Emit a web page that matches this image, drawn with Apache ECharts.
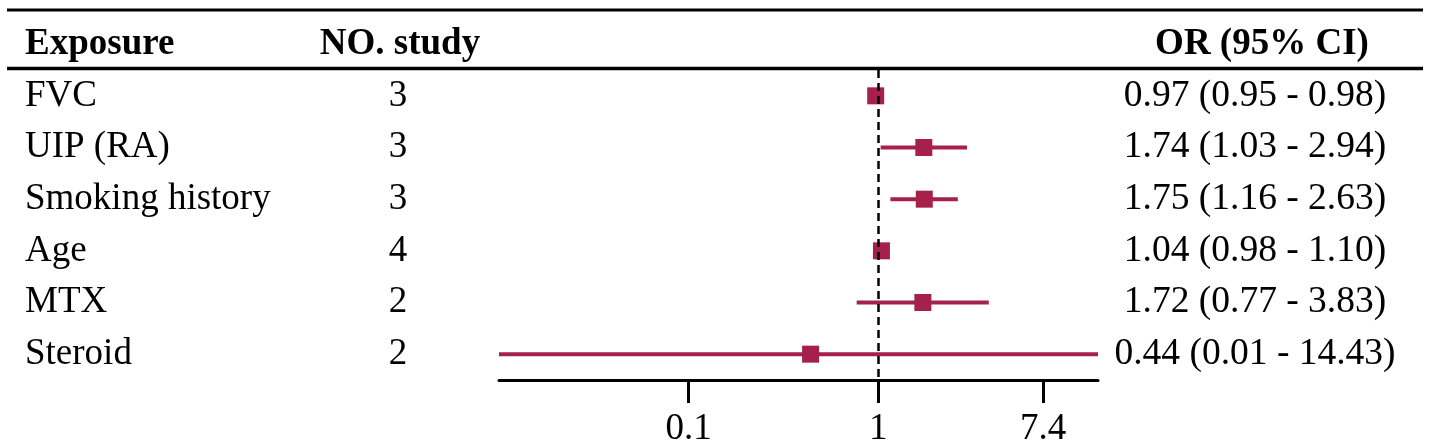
<!DOCTYPE html>
<html>
<head>
<meta charset="utf-8">
<script src="https://cdn.jsdelivr.net/npm/echarts@6/dist/echarts.min.js"></script>
<style>
html, body { margin: 0; padding: 0; background: #fff; }
#main { width: 1429px; height: 448px; }
</style>
</head>
<body>
<div id="main"></div>
<script>
// rows of the forest plot, top to bottom
var exposures = ['FVC', 'UIP (RA)', 'Smoking history', 'Age', 'MTX', 'Steroid'];
var studies = [3, 3, 3, 4, 2, 2];
var orVals = [0.97, 1.74, 1.75, 1.04, 1.72, 0.44];
var lower = [0.95, 1.03, 1.16, 0.98, 0.77, 0.01];
var upper = [0.98, 2.94, 2.63, 1.10, 3.83, 14.43];
var xTicks = [0.1, 1, 7.4];

var ciLabels = orVals.map(function (v, i) {
    return v.toFixed(2) + ' (' + lower[i].toFixed(2) + ' - ' + upper[i].toFixed(2) + ')';
});

var font = 'Liberation Serif, Times New Roman, serif';
var red = '#a5214c';

var myecharts = echarts.init(document.getElementById('main'));

// shared look of the row text columns
function rowLabel(align, margin, size) {
    return {
        align: align,
        margin: margin,
        padding: [6, 0, 0, 0],
        fontFamily: font,
        fontSize: size,
        color: '#000'
    };
}

var option = {
    animation: false,
    grid: { left: 499, right: 331, top: 70, bottom: 66 },
    xAxis: {
        type: 'log',
        logBase: 10,
        min: 0.01,
        max: 14.43,
        splitLine: { show: false },
        minorTick: { show: false },
        axisLine: { show: true, lineStyle: { color: '#000', width: 3 } },
        axisTick: { show: true, customValues: xTicks, length: 23, lineStyle: { color: '#000', width: 3 } },
        axisLabel: {
            customValues: xTicks,
            margin: 31,
            fontFamily: font,
            fontSize: 37,
            color: '#000',
            formatter: function (v) { return String(v); }
        }
    },
    yAxis: [
        {
            type: 'category',
            data: exposures,
            inverse: true,
            axisLine: { show: false },
            axisTick: { show: false },
            axisLabel: rowLabel('left', 474, 37)
        },
        {
            type: 'category',
            data: studies.map(String),
            inverse: true,
            position: 'left',
            axisLine: { show: false },
            axisTick: { show: false },
            axisLabel: rowLabel('center', 101, 37)
        },
        {
            type: 'category',
            data: ciLabels,
            inverse: true,
            position: 'right',
            axisLine: { show: false },
            axisTick: { show: false },
            axisLabel: rowLabel('center', 157, 37.5)
        }
    ],
    graphic: [
        { type: 'line', shape: { x1: 7, y1: 10, x2: 1423, y2: 10 }, style: { stroke: '#000', lineWidth: 3 } },
        { type: 'line', shape: { x1: 7, y1: 68.5, x2: 1423, y2: 68.5 }, style: { stroke: '#000', lineWidth: 3.5 } },
        { type: 'text', x: 25, y: 26, style: { text: 'Exposure', font: 'bold 37px ' + font, fill: '#000' } },
        { type: 'text', x: 400, y: 26, style: { text: 'NO. study', font: 'bold 37px ' + font, fill: '#000', textAlign: 'center' } },
        { type: 'text', x: 1262, y: 26, style: { text: 'OR (95% CI)', font: 'bold 37px ' + font, fill: '#000', textAlign: 'center' } }
    ],
    series: [
        {
            type: 'custom',
            name: 'CI',
            renderItem: function (params, api) {
                var p1 = api.coord([api.value(1), api.value(0)]);
                var p2 = api.coord([api.value(2), api.value(0)]);
                return {
                    type: 'line',
                    shape: { x1: p1[0], y1: p1[1], x2: p2[0], y2: p2[1] },
                    style: { stroke: red, lineWidth: 4 }
                };
            },
            encode: { x: [1, 2], y: 0 },
            data: exposures.map(function (e, i) { return [i, lower[i], upper[i]]; }),
            z: 2
        },
        {
            type: 'scatter',
            name: 'OR',
            symbol: 'rect',
            symbolSize: 17,
            itemStyle: { color: red, opacity: 1 },
            data: exposures.map(function (e, i) { return [orVals[i], i]; }),
            markLine: {
                silent: true,
                symbol: 'none',
                label: { show: false },
                lineStyle: { color: '#000', type: [8, 5], width: 2.5 },
                data: [{ xAxis: 1 }]
            },
            z: 3
        }
    ]
};
myecharts.setOption(option);
</script>
</body>
</html>
